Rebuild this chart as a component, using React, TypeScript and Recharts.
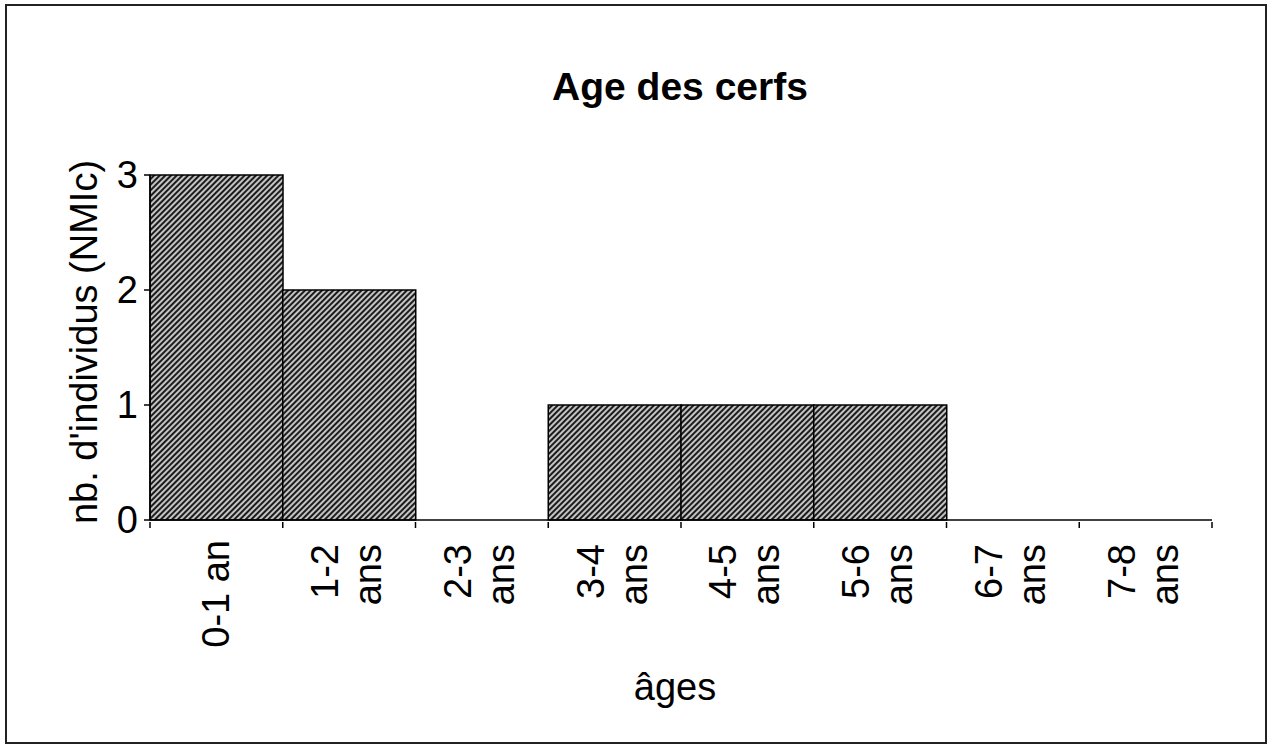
import React from "react";
import { BarChart, Bar, XAxis, YAxis } from "recharts";

const categories = ["0-1 an", "1-2 ans", "2-3 ans", "3-4 ans", "4-5 ans", "5-6 ans", "6-7 ans", "7-8 ans"];
const counts = [3, 2, 0, 1, 1, 1, 0, 0];
const yTicks = [0, 1, 2, 3];
const title = "Age des cerfs";
const yLabel = "nb. d'individus (NMIc)";
const xLabel = "âges";

const data = categories.map((c, i) => ({ cat: c, value: counts[i] }));

const FONT = "'Liberation Sans', Arial, sans-serif";
const FS = 38;

const W = 1268;
const H = 745;
const M = { top: 175, right: 56, bottom: 65, left: 70 };
const Y_AXIS_W = 80;
const BAND = (W - M.left - M.right - Y_AXIS_W) / categories.length;

const CatTick = (props: any) => {
  const { x, y, payload, index } = props;
  const label: string = payload.value;
  const lines = label.endsWith(" ans") ? [label.slice(0, -4), "ans"] : [label];
  const top = y + 18;
  const axisY = y;
  const marks = [x - BAND / 2];
  if (index === categories.length - 1) marks.push(x + BAND / 2);
  const tickMarks = marks.map((mx, k) => (
    <line key={"t" + k} x1={mx} x2={mx} y1={axisY} y2={axisY + 6} stroke="#000" strokeWidth={1.5} />
  ));
  if (lines.length === 1) {
    return (
      <g>
        {tickMarks}
        <text
          transform={`translate(${x},${top}) rotate(-90)`}
          textAnchor="end"
          dominantBaseline="central"
          fontSize={FS}
          fontFamily={FONT}
          fill="#000"
        >
          {lines[0]}
        </text>
      </g>
    );
  }
  return (
    <g>
      {tickMarks}
      {lines.map((ln, i) => (
        <text
          key={i}
          transform={`translate(${x + (i === 0 ? -24 : 19)},${top + 4}) rotate(-90)`}
          textAnchor="end"
          dominantBaseline="central"
          fontSize={FS}
          fontFamily={FONT}
          fill="#000"
        >
          {ln}
        </text>
      ))}
    </g>
  );
};

export default function App() {
  return (
    <div style={{ position: "absolute", left: 0, top: 0, width: W, height: H, background: "#fff" }}>
      <div
        style={{
          position: "absolute",
          left: 5,
          top: 4,
          width: 1258,
          height: 736,
          border: "2px solid #222",
        }}
      />
      <div style={{ position: "absolute", left: 0, top: 0 }}>
        <BarChart
          width={W}
          height={H}
          data={data}
          margin={M}
          barCategoryGap={0}
          barGap={0}
        >
          <defs>
            <pattern
              id="hatch"
              patternUnits="userSpaceOnUse"
              width={4}
              height={4}
              patternTransform="rotate(-45)"
            >
              <rect x={0} y={0} width={4} height={4} fill="#c4c4c4" />
              <rect x={0} y={0} width={4} height={2} fill="#1c1c1c" />
            </pattern>
          </defs>
          <XAxis
            dataKey="cat"
            height={160}
            interval={0}
            tickLine={false}
            tickSize={0}
            axisLine={{ stroke: "#000", strokeWidth: 1.5 }}
            tick={<CatTick />}
          />
          <YAxis
            domain={[0, 3]}
            ticks={yTicks}
            width={Y_AXIS_W}
            tickSize={6}
            tickMargin={6}
            axisLine={{ stroke: "#000", strokeWidth: 1.5 }}
            tickLine={{ stroke: "#000", strokeWidth: 1.5 }}
            tick={{ fontSize: FS, fontFamily: FONT, fill: "#000" }}
          />
          <Bar
            dataKey="value"
            fill="url(#hatch)"
            stroke="#000"
            strokeWidth={1.5}
            isAnimationActive={false}
          />
          <text
            x={680}
            y={86}
            textAnchor="middle"
            dominantBaseline="central"
            fontSize={39}
            fontWeight="bold"
            fontFamily={FONT}
            fill="#000"
          >
            {title}
          </text>
          <text
            transform="translate(84,342) rotate(-90)"
            textAnchor="middle"
            dominantBaseline="central"
            fontSize={FS}
            fontFamily={FONT}
            fill="#000"
          >
            {yLabel}
          </text>
          <text
            x={675}
            y={687}
            textAnchor="middle"
            dominantBaseline="central"
            fontSize={FS}
            fontFamily={FONT}
            fill="#000"
          >
            {xLabel}
          </text>
        </BarChart>
      </div>
    </div>
  );
}
